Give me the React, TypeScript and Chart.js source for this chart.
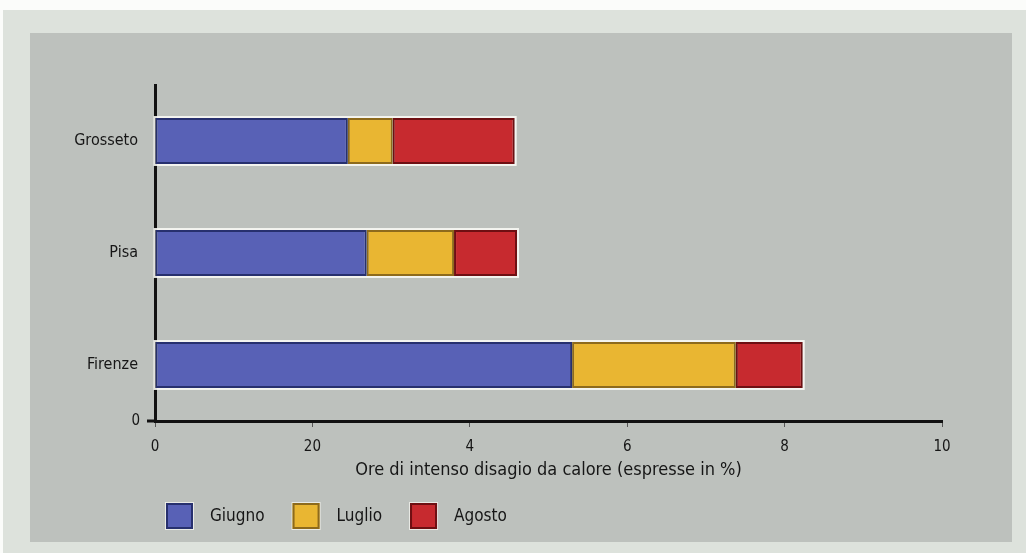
import React, { useEffect, useRef } from "react";
import { Chart, registerables } from "chart.js";

Chart.register(...registerables);

// Hours of intense heat discomfort, split by month
const cities = ["Grosseto", "Pisa", "Firenze"];
const giugno = [2.45, 2.69, 5.3];
const luglio = [0.57, 1.11, 2.08];
const agosto = [1.55, 0.8, 0.85];
const seriesNames = ["Giugno", "Luglio", "Agosto"];
const xTickLabels = ["0", "20", "4", "6", "8", "10"];
const xTitle = "Ore di intenso disagio da calore (espresse in %)";
const yBaseLabel = "0";

const FONT = '"Liberation Sans Narrow", "DejaVu Sans Condensed", "Roboto Condensed", "Liberation Sans", sans-serif';
const TEXT = "#161616";
const fills = ["#5861b6", "#e9b632", "#c72a2f"];
const edges = ["#27306e", "#8d6a1c", "#6e0f12"];

// White halo around each stacked bar, drawn underneath the segments
const haloPlugin = {
  id: "halo",
  beforeDatasetsDraw(chart: any) {
    const ctx = chart.ctx;
    const first = chart.getDatasetMeta(0).data;
    const last = chart.getDatasetMeta(chart.data.datasets.length - 1).data;
    ctx.save();
    ctx.strokeStyle = "rgba(250,250,245,0.9)";
    ctx.lineWidth = 2;
    first.forEach((bar: any, i: number) => {
      const left = bar.base;
      const right = last[i].x;
      const top = bar.y - bar.height / 2;
      ctx.strokeRect(left - 1, top - 1, right - left + 2, bar.height + 2);
    });
    ctx.restore();
  },
};

// Base "0" on the vertical axis plus the custom legend row
const extrasPlugin = {
  id: "extras",
  afterDraw(chart: any) {
    const ctx = chart.ctx;
    const { left, bottom } = chart.chartArea;
    ctx.save();
    ctx.strokeStyle = "#111";
    ctx.lineWidth = 3;
    ctx.beginPath();
    ctx.moveTo(left - 8, bottom);
    ctx.lineTo(left, bottom);
    ctx.stroke();
    ctx.fillStyle = TEXT;
    ctx.font = `15px ${FONT}`;
    ctx.textAlign = "right";
    ctx.textBaseline = "middle";
    ctx.fillText(yBaseLabel, left - 15, bottom);

    // legend
    let x = left + 11;
    const y = 516;
    ctx.font = `17px ${FONT}`;
    ctx.textAlign = "left";
    chart.data.datasets.forEach((ds: any) => {
      ctx.fillStyle = "rgba(245,245,240,0.8)";
      ctx.fillRect(x - 1, y - 14, 29, 28);
      ctx.fillStyle = ds.backgroundColor;
      ctx.fillRect(x, y - 13, 27, 26);
      ctx.strokeStyle = ds.borderColor;
      ctx.lineWidth = 2;
      ctx.strokeRect(x + 1, y - 12, 25, 24);
      ctx.fillStyle = TEXT;
      ctx.fillText(ds.label, x + 44, y + 1);
      x += 44 + ctx.measureText(ds.label).width + 28;
    });
    ctx.restore();
  },
};

export default function App() {
  const canvasRef = useRef<HTMLCanvasElement | null>(null);

  useEffect(() => {
    if (!canvasRef.current) return;
    const series = [giugno, luglio, agosto];
    const chart = new Chart(canvasRef.current, {
      type: "bar",
      data: {
        labels: cities,
        datasets: series.map((values, i) => ({
          label: seriesNames[i],
          data: values,
          backgroundColor: fills[i],
          borderColor: edges[i],
          borderWidth: 2,
          borderSkipped: false,
          categoryPercentage: 0.41,
          barPercentage: 1,
        })),
      },
      options: {
        indexAxis: "y",
        responsive: false,
        animation: false,
        devicePixelRatio: 1,
        layout: { padding: { top: 85, right: 84, left: 0, bottom: 0 } },
        plugins: {
          legend: { display: false },
          tooltip: { enabled: false },
        },
        scales: {
          x: {
            type: "linear",
            stacked: true,
            min: 0,
            max: 10,
            afterFit: (scale: any) => {
              scale.height = 132;
            },
            afterBuildTicks: (scale: any) => {
              scale.ticks = xTickLabels.map((_, i) => ({ value: i * 2 }));
            },
            ticks: {
              color: TEXT,
              font: { family: FONT, size: 15 },
              padding: 11,
              callback: (_v: any, i: number) => xTickLabels[i],
            },
            grid: {
              drawOnChartArea: false,
              drawTicks: true,
              tickLength: 6,
              color: "#555",
              lineWidth: 1,
            },
            border: { display: true, color: "#111", width: 3 },
            title: {
              display: true,
              text: xTitle,
              color: TEXT,
              font: { family: FONT, size: 18 },
              padding: { top: 0, bottom: 72 },
            },
          },
          y: {
            type: "category",
            stacked: true,
            afterFit: (scale: any) => {
              scale.width = 155;
            },
            ticks: {
              color: TEXT,
              font: { family: FONT, size: 16 },
              padding: 17,
            },
            grid: { display: false, drawTicks: false },
            border: { display: true, color: "#111", width: 3 },
          },
        },
      },
      plugins: [haloPlugin, extrasPlugin],
    });
    return () => chart.destroy();
  }, []);

  return (
    <div style={{ position: "fixed", left: 0, top: 0, width: 1026, height: 553, background: "#fbfcfa" }}>
      <div style={{ position: "absolute", left: 3, top: 10, width: 1023, height: 543, background: "#dde2dc" }} />
      <div style={{ position: "absolute", left: 30, top: 33, width: 982, height: 509, background: "#bdc1bd" }} />
      <canvas ref={canvasRef} width={1026} height={553} style={{ position: "absolute", left: 0, top: 0 }} />
    </div>
  );
}
